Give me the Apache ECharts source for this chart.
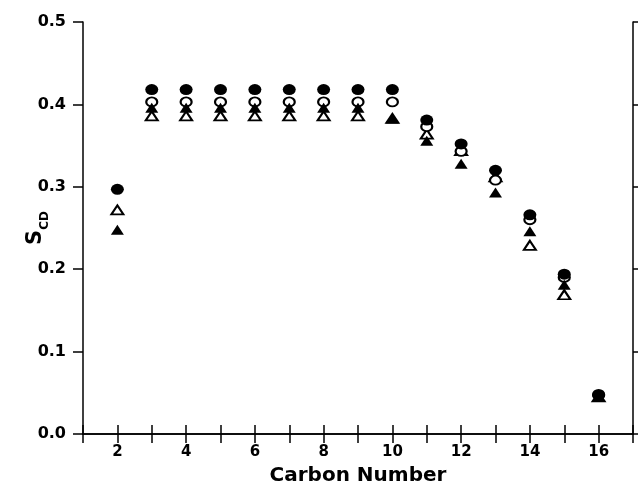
<!DOCTYPE html>
<html><head><meta charset="utf-8">
<script src="https://cdn.jsdelivr.net/npm/echarts@6/dist/echarts.min.js"></script>
<style>html,body{margin:0;padding:0;background:#fff}#c{width:639px;height:487px}</style>
</head><body><div id="c"></div>
<script>
const carbon = [2,3,4,5,6,7,8,9,10,11,12,13,14,15,16];
const filledCircle   = [0.297,0.418,0.418,0.418,0.418,0.418,0.418,0.418,0.418,0.381,0.352,0.320,0.266,0.194,0.048];
const openCircle     = [null,0.403,0.403,0.403,0.403,0.403,0.403,0.403,0.403,0.373,0.343,0.308,0.260,0.190,0.047];
const filledTriangle = [0.248,0.396,0.396,0.396,0.396,0.396,0.396,0.396,0.383,0.356,0.328,0.293,0.246,0.181,0.045];
const openTriangle   = [0.272,0.386,0.386,0.386,0.386,0.386,0.386,0.386,0.383,0.364,0.344,0.312,0.229,0.169,0.045];
const yTicks = [0.0,0.1,0.2,0.3,0.4,0.5];

const FONT = 'DejaVu Sans';
const pair = arr => carbon.map((c,i)=>[c, arr[i]]).filter(p => p[1] !== null);
const chart = echarts.init(document.getElementById('c'), null, {renderer:'canvas'});
const lineStyle = {color:'#000', width:1.5};
chart.setOption({
  animation:false,
  grid:{left:83, right:6, top:22, bottom:53, containLabel:false, outerBoundsMode:'none'},
  xAxis:[{
    type:'value', min:1, max:17, interval:1,
    axisLine:{show:true, lineStyle},
    axisTick:{show:true, length:9, lineStyle},
    splitLine:{show:false},
    axisLabel:{color:'#000', fontFamily:FONT, fontWeight:'bold', fontSize:15, margin:11,
      formatter:v => (v%2===0 && v>=2 && v<=16) ? String(v) : ''},
    name:'Carbon Number', nameLocation:'middle', nameGap:32, nameMoveOverlap:false,
    nameTextStyle:{color:'#000', fontFamily:FONT, fontWeight:'bold', fontSize:20}
  },{
    type:'value', position:'top', min:1, max:17, interval:1,
    axisLine:{show:true, lineStyle},
    axisTick:{show:true, length:9, lineStyle},
    axisLabel:{show:false}, splitLine:{show:false}
  }],
  yAxis:[{
    type:'value', min:0, max:0.5, interval:0.1,
    axisLine:{show:true, lineStyle},
    axisTick:{show:true, length:10, lineStyle},
    splitLine:{show:false},
    axisLabel:{color:'#000', fontFamily:FONT, fontWeight:'bold', fontSize:16, margin:17,
      formatter:v => v.toFixed(1)},
    name:'{s|S}{sub|CD}', nameLocation:'middle', nameGap:37, nameRotate:90, nameMoveOverlap:false,
    nameTextStyle:{color:'#000', fontFamily:FONT, fontWeight:'bold',
      rich:{s:{fontSize:21, fontFamily:FONT, fontWeight:'bold', color:'#000', lineHeight:26, verticalAlign:'bottom'},
            sub:{fontSize:12, fontFamily:FONT, fontWeight:'bold', color:'#000', lineHeight:26, verticalAlign:'bottom', padding:[0,0,-5,0]}}}
  },{
    type:'value', position:'right', min:0, max:0.5, interval:0.1,
    axisLine:{show:true, lineStyle},
    axisTick:{show:true, length:5, lineStyle},
    axisLabel:{show:false}, splitLine:{show:false}
  }],
  series:[
    {type:'scatter', data:pair(openTriangle), symbol:'triangle', symbolSize:[12,9],
      itemStyle:{color:'#fff', borderColor:'#000', borderWidth:2, opacity:1}, z:2},
    {type:'scatter', data:pair(openCircle), symbol:'circle', symbolSize:[11,9],
      itemStyle:{color:'#fff', borderColor:'#000', borderWidth:2, opacity:1}, z:3},
    {type:'scatter', data:pair(filledTriangle), symbol:'triangle', symbolSize:[13,10],
      itemStyle:{color:'#000', borderWidth:0, opacity:1}, z:4},
    {type:'scatter', data:pair(filledCircle), symbol:'circle', symbolSize:[13,11],
      itemStyle:{color:'#000', borderWidth:0, opacity:1}, z:5}
  ]
});
</script></body></html>
